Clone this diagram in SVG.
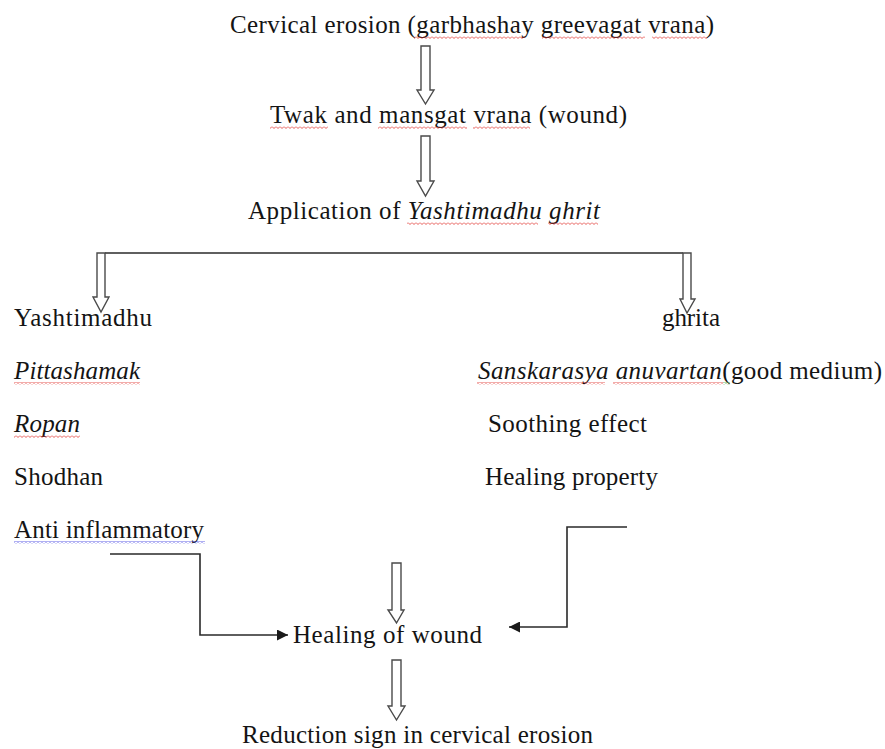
<svg xmlns="http://www.w3.org/2000/svg" width="885" height="749" viewBox="0 0 885 749">
<style>
.t{font-family:"Liberation Serif","Times New Roman",serif;font-size:25px;fill:#141414}
.i{font-style:italic}
.ha{fill:#fff;stroke:#4a4a4a;stroke-width:1.4;stroke-linejoin:miter}
.ln{fill:none;stroke:#2a2a2a;stroke-width:1.6}
</style>
<defs>
<pattern id="wr" width="4" height="3" patternUnits="userSpaceOnUse"><path d="M0,0.5 L2,2.5 L4,0.5" fill="none" stroke="#e0302a" stroke-width="0.8"/></pattern>
<pattern id="wb" width="4" height="3" patternUnits="userSpaceOnUse"><path d="M0,0.5 L2,2.5 L4,0.5" fill="none" stroke="#3a3ae0" stroke-width="0.8"/></pattern>
<pattern id="wg" width="4" height="3" patternUnits="userSpaceOnUse"><path d="M0,0.5 L2,2.5 L4,0.5" fill="none" stroke="#3aa040" stroke-width="0.8"/></pattern>
<marker id="ah" viewBox="0 0 10 10" refX="10" refY="5" markerWidth="11" markerHeight="11" markerUnits="userSpaceOnUse" orient="auto"><path d="M0,0 L10,5 L0,10 Z" fill="#1a1a1a"/></marker>
</defs>

<g id="n1"><text class="t" x="230" y="33" textLength="484" lengthAdjust="spacing">Cervical erosion (garbhashay greevagat vrana)</text>
<rect x="414" y="36" width="111" height="3" fill="url(#wr)"/><rect x="542" y="36" width="103" height="3" fill="url(#wr)"/><rect x="652" y="36" width="55" height="3" fill="url(#wr)"/></g>

<g id="n2"><text class="t" x="270" y="123" textLength="357" lengthAdjust="spacing">Twak and mansgat vrana (wound)</text>
<rect x="270" y="126" width="58" height="3" fill="url(#wr)"/><rect x="378" y="126" width="89" height="3" fill="url(#wr)"/><rect x="473" y="126" width="57" height="3" fill="url(#wr)"/></g>

<g id="n3"><text class="t" x="248" y="219" textLength="352" lengthAdjust="spacing">Application of <tspan class="i">Yashtimadhu ghrit</tspan></text>
<rect x="407" y="222" width="131" height="3" fill="url(#wr)"/><rect x="548" y="222" width="50" height="3" fill="url(#wr)"/></g>

<g id="n4"><text class="t" x="14" y="326" textLength="138" lengthAdjust="spacing">Yashtimadhu</text></g>
<g id="n5"><text class="t i" x="14" y="379" textLength="126" lengthAdjust="spacing">Pittashamak</text>
<rect x="14" y="382" width="126" height="3" fill="url(#wr)"/></g>
<g id="n6"><text class="t i" x="14" y="432" textLength="66" lengthAdjust="spacing">Ropan</text>
<rect x="14" y="435" width="66" height="3" fill="url(#wr)"/></g>
<g id="n7"><text class="t" x="14" y="485" textLength="89" lengthAdjust="spacing">Shodhan</text></g>
<g id="n8"><text class="t" x="14" y="538" textLength="190" lengthAdjust="spacing">Anti inflammatory</text>
<rect x="14" y="541" width="191" height="3" fill="url(#wb)"/></g>

<g id="n9"><text class="t" x="662" y="326" textLength="58" lengthAdjust="spacing">ghrita</text></g>
<g id="n10"><text class="t" x="478" y="379" textLength="404" lengthAdjust="spacing"><tspan class="i">Sanskarasya anuvartan</tspan>(good medium)</text>
<rect x="477" y="382" width="128" height="3" fill="url(#wr)"/><rect x="613" y="382" width="110" height="3" fill="url(#wr)"/><rect x="723" y="382" width="7" height="3" fill="url(#wg)"/></g>
<g id="n11"><text class="t" x="488" y="432" textLength="159" lengthAdjust="spacing">Soothing effect</text></g>
<g id="n12"><text class="t" x="485" y="485" textLength="173" lengthAdjust="spacing">Healing property</text></g>

<g id="n13"><text class="t" x="293" y="643" textLength="189" lengthAdjust="spacing">Healing of wound</text></g>
<g id="n14"><text class="t" x="242" y="743" textLength="351" lengthAdjust="spacing">Reduction sign in cervical erosion</text></g>

<g id="connectors">
<polygon class="ha" points="421,46 430,46 430,90 434,90 425.5,104 417,90 421,90"/>
<polygon class="ha" points="421,136 430,136 430,181 434,181 425.5,196 417,181 421,181"/>
<line class="ln" x1="105" y1="253" x2="683" y2="253"/>
<polygon class="ha" points="97,253 105,253 105,297 109,297 101,312 93,297 97,297"/>
<polygon class="ha" points="683,253 691,253 691,299 695,299 687,313 680,299 683,299"/>
<polygon class="ha" points="392,563 401,563 401,610 404,610 396.5,623 388,610 392,610"/>
<polygon class="ha" points="392,660 401,660 401,706 405,706 396.5,720 388,706 392,706"/>
<polyline class="ln" points="110,554 200,554 200,635 288,635" marker-end="url(#ah)"/>
<polyline class="ln" points="627,527 567,527 567,627 509,627" marker-end="url(#ah)"/>
</g>
</svg>
